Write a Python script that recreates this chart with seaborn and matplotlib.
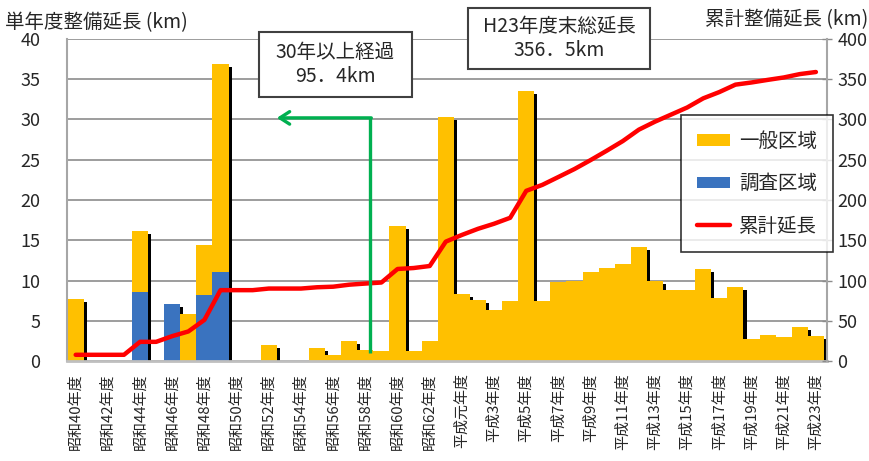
import numpy as np
import pandas as pd
import matplotlib.pyplot as plt
import seaborn as sns
from matplotlib.patches import Patch, Rectangle
from matplotlib.lines import Line2D

# fiscal years 昭和40 (1965) .. 平成23 (2011)
years = ([f'昭和{n}年度' for n in range(40, 64)] + ['平成元年度']
         + [f'平成{n}年度' for n in range(2, 24)])

# 一般区域 (km per year)
general = [7.7, 0, 0, 0, 7.5, 0, 0, 5.8, 6.2, 25.8,
           0, 0, 2.0, 0, 0, 1.6, 0.7, 2.5, 1.4, 1.3,
           16.8, 1.2, 2.5, 30.3, 8.3, 7.6, 6.3, 7.4, 33.5, 7.4,
           9.8, 9.9, 11.1, 11.6, 12.0, 14.2, 9.9, 8.8, 8.8, 11.4,
           7.8, 9.2, 2.7, 3.2, 3.0, 4.2, 3.1]
# 調査区域 (km per year)
survey = [0, 0, 0, 0, 8.6, 0, 7.1, 0, 8.2, 11.1,
          0, 0, 0, 0, 0, 0, 0, 0, 0, 0,
          0, 0, 0, 0, 0, 0, 0, 0, 0, 0,
          0, 0, 0, 0, 0, 0, 0, 0, 0, 0,
          0, 0, 0, 0, 0, 0, 0]
# 累計延長 (km)
cumulative = [7.7, 7.7, 7.7, 7.7, 23.8, 23.8, 30.9, 36.7, 51.1, 88.0,
              88.0, 88.0, 90.0, 90.0, 90.0, 91.6, 92.3, 94.8, 96.2, 97.5,
              114.3, 115.5, 118.0, 148.3, 156.6, 164.2, 170.5, 177.9, 211.4, 218.8,
              228.6, 238.5, 249.6, 261.2, 273.2, 287.4, 297.3, 306.1, 314.9, 326.3,
              334.1, 343.3, 346.0, 349.2, 352.2, 356.4, 359.0]

df = pd.DataFrame({'年度': years, '一般区域': general, '調査区域': survey,
                   '累計延長': cumulative})
df['合計'] = df['一般区域'] + df['調査区域']
df['pos'] = np.arange(len(df))

sns.set_style('white')
plt.rcParams['font.family'] = ['Noto Sans CJK JP', 'DejaVu Sans']

YELLOW = '#FFC000'
BLUE = '#3A73BF'
W, H = 869, 461

fig = plt.figure(figsize=(W / 100, H / 100), dpi=100)
ax = fig.add_axes([67 / W, 1 - 361 / H, 760 / W, 322 / H])

# shadows behind the bars
ax.bar(df['pos'] + 0.19, df['合計'], width=1.0, bottom=-0.37,
       color='black', linewidth=0, zorder=0.8)
sns.barplot(data=df, x='年度', y='合計', order=years, color=YELLOW,
            saturation=1, width=1.0, linewidth=0, errorbar=None, ax=ax)
sns.barplot(data=df, x='年度', y='調査区域', order=years, color=BLUE,
            saturation=1, width=1.0, linewidth=0, errorbar=None, ax=ax)

ax.set_xlim(-0.54, 46.69)
ax.set_ylim(0, 40)
ax.set_yticks(range(0, 41, 5))
ax.set_xticks(range(0, len(years), 2))
ax.set_xticklabels(years[::2], rotation=90, fontsize=10.8)
ax.set_xlabel('')
ax.set_ylabel('')
ax.tick_params(axis='x', length=0, pad=9)
ax.tick_params(axis='y', length=0, pad=19, labelsize=13)
ax.set_axisbelow(True)
ax.yaxis.grid(True, color='#8c8c8c', linewidth=1.2)
for s in ['top', 'right']:
    ax.spines[s].set_visible(False)
ax.spines['left'].set_color('#a6a6a6')
ax.spines['left'].set_linewidth(1.5)
ax.spines['bottom'].set_color('#bfbfbf')
ax.spines['bottom'].set_linewidth(2)

ax2 = ax.twinx()
sns.lineplot(data=df, x='pos', y='累計延長', color='#FF0000', linewidth=3.2,
             ax=ax2, zorder=3)
ax2.set_ylim(0, 400)
ax2.set_yticks(range(0, 401, 50))
ax2.set_ylabel('')
ax2.set_xlabel('')
ax2.tick_params(axis='y', direction='inout', length=7, width=1,
                color='#8c8c8c', pad=4, labelsize=13)
ax2.grid(False)
for s in ['top', 'left', 'bottom']:
    ax2.spines[s].set_visible(False)
ax2.spines['right'].set_color('#a6a6a6')
ax2.spines['right'].set_linewidth(1.5)

# green arrow: 30 years and older
ax2.plot([18.29, 18.29], [10, 302], color='#00B050', linewidth=2.4, zorder=5,
         solid_capstyle='butt')
ax2.annotate('', xy=(12.5, 302), xytext=(18.37, 302), zorder=5,
             arrowprops=dict(arrowstyle='->,head_length=0.7,head_width=0.45',
                             color='#00B050', lw=2.4, shrinkA=0, shrinkB=0))

handles = [Patch(facecolor=YELLOW, edgecolor='none'),
           Patch(facecolor=BLUE, edgecolor='none'),
           Line2D([0], [0], color='#FF0000', linewidth=3.2)]
leg = ax2.legend(handles, ['一般区域', '調査区域', '累計延長'],
                 loc='upper left', bbox_to_anchor=(0.808, 0.763),
                 fontsize=14, frameon=True, fancybox=False,
                 edgecolor='black', labelspacing=1.1, handlelength=1.7,
                 handleheight=0.55, handletextpad=0.5, borderpad=0.8,
                 borderaxespad=0)
leg.get_frame().set_linewidth(1.2)
leg.set_zorder(10)


def box(x0, y0, x1, y1, text):
    fig.add_artist(Rectangle((x0 / W, 1 - y1 / H), (x1 - x0) / W, (y1 - y0) / H,
                             transform=fig.transFigure, facecolor='white',
                             edgecolor='#404040', linewidth=1.5, zorder=4))
    fig.text((x0 + x1) / 2 / W, 1 - (y0 + y1) / 2 / H, text, ha='center',
             va='center', fontsize=14, linespacing=1.25, zorder=5)


box(259, 32, 412, 97, '30年以上経過\n95．4km')
box(468, 8, 650, 69, 'H23年度末総延長\n356．5km')

fig.text(5 / W, 1 - 23 / H, '単年度整備延長 (km)', ha='left', va='center',
         fontsize=14)
fig.text(868 / W, 1 - 20 / H, '累計整備延長 (km)', ha='right', va='center',
         fontsize=14)

fig.savefig('out.png', dpi=100)
